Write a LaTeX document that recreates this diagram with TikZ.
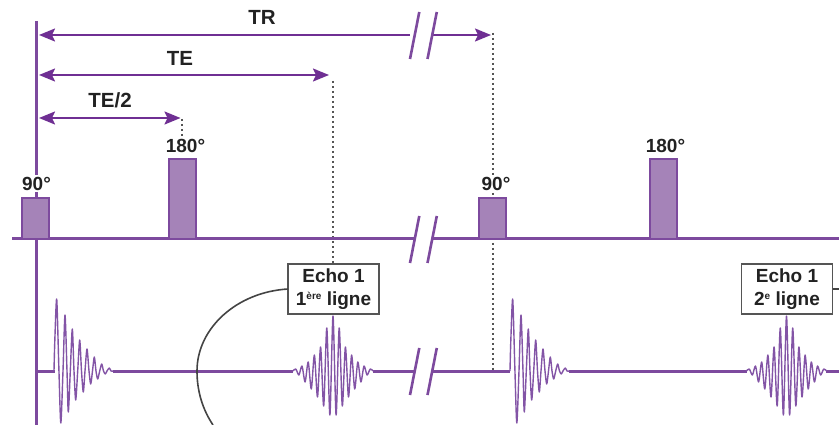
\documentclass[tikz,border=0pt]{standalone}
\usepackage{fontspec}
\setmainfont{Liberation Sans}
\usetikzlibrary{arrows.meta}
\definecolor{arrowpurple}{HTML}{6F2F93}
\definecolor{linepurple}{HTML}{7D4A9E}
\definecolor{pulsefill}{HTML}{A583B8}
\definecolor{wavepurple}{HTML}{8354A6}
\definecolor{dotgrey}{HTML}{555555}
\definecolor{txt}{HTML}{222222}
\newcommand{\fidpath}{plot[smooth,tension=0.45] coordinates {(0,0) (0.8,-30) (2.7,-72) (4.8,-5) (6.8,52) (9,0) (11,-56) (13,0) (14.3,41) (16.3,0) (18.3,-42) (20,0) (21.7,29) (23.7,0) (25.7,-31) (27.5,0) (29.3,21) (31,0) (33,-22) (35,0) (36.7,13) (38.5,0) (40.3,-14) (42,0) (43.7,8) (45.7,0) (47.7,-7) (49.5,0) (51.3,3) (53,0) (55.3,-3) (57,0) (59,0)}}
\newcommand{\echopath}{plot[smooth,tension=0.45] coordinates {(-40,0) (-37.2,-2) (-34.1,4) (-31,-5) (-27.9,11) (-24.8,-9) (-21.7,18) (-18.6,-16) (-15.5,26) (-12.4,-24) (-9.3,35) (-6.2,-43) (-3.1,44) (0,-55) (3.1,44) (6.2,-43) (9.3,35) (12.4,-24) (15.5,26) (18.6,-16) (21.7,18) (24.8,-9) (27.9,11) (31,-5) (34.1,4) (37.2,-2) (40,0)}}
\tikzset{
 axisline/.style={draw=linepurple,line width=3pt},
 spanarrow/.style={draw=arrowpurple,line width=2pt,{Stealth[length=16pt,width=13pt,inset=3pt]}-{Stealth[length=16pt,width=13pt,inset=3pt]}},
 rightonly/.style={draw=arrowpurple,line width=2pt,-{Stealth[length=16pt,width=13pt,inset=3pt]}},
 leftonly/.style={draw=arrowpurple,line width=2pt,{Stealth[length=16pt,width=13pt,inset=3pt]}-},
 breakbar/.style={draw=linepurple,line width=2.6pt},
 guide/.style={draw=dotgrey,line width=2pt,dash pattern=on 2.2pt off 2.8pt},
 pulse/.style={draw=linepurple,line width=2.2pt,fill=pulsefill,inner sep=0pt,outer sep=0pt,minimum width=27pt},
 lab/.style={font=\fontsize{20.5}{20.5}\bfseries\selectfont,text=txt,inner sep=0pt},
 angle/.style={font=\fontsize{19}{19}\bfseries\selectfont,text=txt,inner sep=1.5pt,fill=white},
 echobox/.style={draw=dotgrey,line width=1.5pt,fill=white,minimum width=91pt,minimum height=50pt,inner sep=0pt,outer sep=0pt,align=center,text=txt,font=\fontsize{19}{23}\bfseries\selectfont},
 wave/.style={draw=wavepurple,line width=1.4pt,line join=round},
 leader/.style={draw=dotgrey!80!black,line width=1.6pt},
}
\begin{document}
\begin{tikzpicture}[x=1pt,y=-1pt]
\useasboundingbox (0,0) rectangle (839,425);
\clip (0,0) rectangle (839,425);
% coordinates
\coordinate (t0) at (36,21); \coordinate (t1) at (36,425);
\coordinate (trL) at (39,35); \coordinate (trA) at (410,35); \coordinate (trB) at (433,35); \coordinate (trR) at (491,35);
\coordinate (teL) at (39,75); \coordinate (teR) at (329,75);
\coordinate (thL) at (39,118); \coordinate (thR) at (180.5,118);
\coordinate (d1) at (332.5,81); \coordinate (d2) at (182,119); \coordinate (d2e) at (182,136);
\coordinate (d3) at (493,33); \coordinate (d3e) at (493,370);
% dotted guides
\coordinate (anchorA) at (332.5,264);
\draw[guide] (d1) -- (anchorA);
\draw[guide] (d2) -- (d2e);
\draw[guide] (d3) -- (d3e);
% main vertical
\draw[axisline] (t0) -- (t1);
% horizontal lines
\coordinate (ax0) at (12,239); \coordinate (ax1) at (414,239); \coordinate (ax2) at (432,239); \coordinate (ax3) at (839,239);
\draw[axisline] (ax0) -- (ax1); \draw[axisline] (ax2) -- (ax3);
\coordinate (a) at (36,371); \coordinate (b) at (54.5,371); \coordinate (c) at (113,371); \coordinate (d) at (293,371);
\coordinate (e) at (372.5,371); \coordinate (f) at (414,371); \coordinate (g) at (432,371); \coordinate (h) at (510,371);
\coordinate (i) at (569,371); \coordinate (j) at (747,371); \coordinate (k) at (826,371); \coordinate (l) at (839,371);
\draw[axisline] (a) -- (b); \draw[axisline] (c) -- (d); \draw[axisline] (e) -- (f);
\draw[axisline] (g) -- (h); \draw[axisline] (i) -- (j); \draw[axisline] (k) -- (l);
% waves
\begin{scope}[shift={(54,371)}] \draw[wave] \fidpath; \end{scope}
\begin{scope}[shift={(510,371)}] \draw[wave] \fidpath; \end{scope}
\begin{scope}[shift={(333,371)}] \draw[wave] \echopath; \end{scope}
\begin{scope}[shift={(786.5,371)}] \draw[wave] \echopath; \end{scope}
% pulses
\node[pulse,minimum height=41pt,anchor=south] (p1) at (35.5,239) {};
\node[pulse,minimum height=80pt,anchor=south] (p2) at (182.5,239) {};
\node[pulse,minimum height=41pt,anchor=south] (p3) at (492.5,239) {};
\node[pulse,minimum height=80pt,anchor=south] (p4) at (663.5,239) {};
\node[angle] (a1) at (36.5,183.5) {90°};
\node[angle,fill=none] (a2) at (185.5,146) {180°};
\node[angle] (a3) at (496,183.5) {90°};
\node[angle,fill=none] (a4) at (665.5,146) {180°};
% spans
\draw[leftonly] (trL) -- (trA);
\draw[rightonly] (trB) -- (trR);
\draw[spanarrow] (teL) -- (teR);
\draw[spanarrow] (thL) -- (thR);
\node[lab] (tr) at (262,17.5) {TR};
\node[lab] (te) at (180,58.5) {TE};
\node[lab] (th) at (110,100.5) {TE/2};
% break bars
\foreach \xx in {0,17.5}{
 \draw[breakbar] (410+\xx,59) -- (419.3+\xx,12);
 \draw[breakbar] (410+\xx,263) -- (419.3+\xx,216);
 \draw[breakbar] (410+\xx,395) -- (419.3+\xx,348);
}
% boxes
\node[echobox] (e1) at (333.5,289) {\raisebox{-1.5pt}{Echo 1}\\\raisebox{-1.5pt}{1\raisebox{5.5pt}{\fontsize{10}{10}\selectfont ère} ligne}};
\node[echobox] (e2) at (787,289) {\raisebox{-1.5pt}{Echo 1}\\\raisebox{-1.5pt}{2\raisebox{5.5pt}{\fontsize{10}{10}\selectfont e} ligne}};
% leaders
\coordinate (c1) at (197,371); \coordinate (c2) at (213,425); \coordinate (c3) at (839,289);
\draw[leader] (e1.west) .. controls (237,292) and (197,328) .. (c1) .. controls (197,392) and (203,410) .. (c2);
\draw[leader] (e2.east) -- (c3);
\end{tikzpicture}
\end{document}
